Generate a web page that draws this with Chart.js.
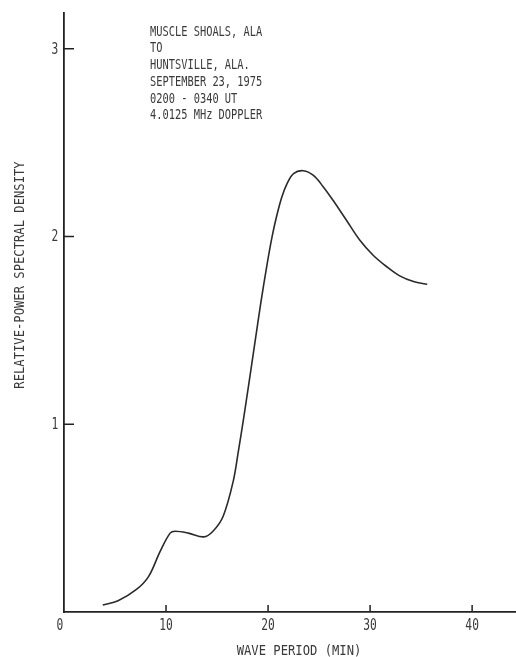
<!DOCTYPE html>
<html>
<head>
<meta charset="utf-8">
<script src="https://cdn.jsdelivr.net/npm/chart.js@4/dist/chart.umd.min.js"></script>
<style>
  html, body { margin: 0; padding: 0; background: #fff; }
  #wrap { width: 516px; height: 657px; position: relative; }
</style>
</head>
<body>
<div id="wrap"><canvas id="c" width="516" height="657"></canvas></div>
<script>
// Wave period (min) and relative power spectral density along the curve
const wavePeriod = [3.8, 5.3, 7.1, 8.3, 9.4, 10.4, 10.9, 12.2, 13.7, 14.6, 15.6, 16.6, 17.1, 17.6,
                    18.1, 18.7, 19.3, 19.9, 20.4, 20.85, 21.35, 21.85, 22.5, 23.45, 24.45, 25.4, 26.4,
                    27.7, 29.0, 30.3, 31.6, 32.9, 34.25, 35.6];
const spectralDensity = [0.037, 0.06, 0.12, 0.19, 0.32, 0.42, 0.43, 0.42, 0.40, 0.43, 0.51, 0.70, 0.86, 1.03,
                         1.21, 1.43, 1.65, 1.85, 2.0, 2.11, 2.21, 2.28, 2.335, 2.35, 2.325, 2.265, 2.19,
                         2.085, 1.98, 1.90, 1.84, 1.79, 1.76, 1.745];

const xTickValues = [0, 10, 20, 30, 40];
const yTickValues = [1, 2, 3];
const xTitle = 'WAVE PERIOD (MIN)';
const yTitle = 'RELATIVE-POWER SPECTRAL DENSITY';
const noteLines = ['MUSCLE SHOALS, ALA', 'TO', 'HUNTSVILLE, ALA.', 'SEPTEMBER 23, 1975', '0200 - 0340 UT', '4.0125 MHz DOPPLER'];

const INK = '#3a3a3a';
const FONT = '"DejaVu Sans Mono", "Liberation Mono", monospace';

// Draws condensed lettering (typewriter-like) on the canvas
function narrowText(ctx, str, x, y, size, sx, align, rot) {
  ctx.save();
  ctx.translate(x, y);
  if (rot) ctx.rotate(rot);
  ctx.scale(sx, 1);
  ctx.font = size + 'px ' + FONT;
  ctx.fillStyle = INK;
  ctx.textAlign = align;
  ctx.textBaseline = 'middle';
  ctx.fillText(str, 0, 0);
  ctx.restore();
}

const axisDecor = {
  id: 'axisDecor',
  afterDraw(chart) {
    const ctx = chart.ctx;
    const xs = chart.scales.x, ys = chart.scales.y;
    const left = chart.chartArea.left, bottom = chart.chartArea.bottom;

    // inward tick marks
    ctx.save();
    ctx.strokeStyle = '#222';
    ctx.lineWidth = 1.5;
    ctx.beginPath();
    xTickValues.filter(v => v > 0).forEach(v => {
      const px = xs.getPixelForValue(v);
      ctx.moveTo(px, bottom);
      ctx.lineTo(px, bottom - 7);
    });
    yTickValues.forEach(v => {
      const py = ys.getPixelForValue(v);
      ctx.moveTo(left, py);
      ctx.lineTo(left + 10, py);
    });
    ctx.stroke();
    ctx.restore();

    // tick labels
    xTickValues.forEach(v => {
      const px = xs.getPixelForValue(v) + (v === 0 ? -4 : 0);
      narrowText(ctx, String(v), px, bottom + 14, 15, 0.75, 'center');
    });
    yTickValues.forEach(v => {
      narrowText(ctx, String(v), left - 9, ys.getPixelForValue(v) + 1, 15, 0.75, 'center');
    });

    // axis titles
    narrowText(ctx, xTitle, 299, 651, 14, 0.87, 'center');
    narrowText(ctx, yTitle, 20, 275, 14, 0.87, 'center', -Math.PI / 2);

    // station / date note
    noteLines.forEach((s, i) => {
      narrowText(ctx, s, 150, 32 + i * 16.7, 14.4, 0.72, 'left');
    });
  }
};

new Chart(document.getElementById('c'), {
  type: 'line',
  data: {
    datasets: [{
      data: wavePeriod.map((x, i) => ({ x, y: spectralDensity[i] })),
      borderColor: '#2a2a2a',
      borderWidth: 1.6,
      pointRadius: 0,
      fill: false,
      tension: 0.35
    }]
  },
  options: {
    responsive: false,
    animation: false,
    devicePixelRatio: 1,
    layout: { padding: { left: 64, top: 13, right: 0, bottom: 45 } },
    plugins: { legend: { display: false }, tooltip: { enabled: false }, title: { display: false } },
    scales: {
      x: {
        type: 'linear', min: 0, max: 44.3,
        ticks: { display: false, stepSize: 10 },
        grid: { drawOnChartArea: false, drawTicks: false },
        border: { display: true, color: '#222', width: 1.8 },
        afterFit(s) { s.height = 0; }
      },
      y: {
        type: 'linear', min: 0, max: 3.19,
        ticks: { display: false, stepSize: 1 },
        grid: { drawOnChartArea: false, drawTicks: false },
        border: { display: true, color: '#222', width: 1.8 },
        afterFit(s) { s.width = 0; }
      }
    }
  },
  plugins: [axisDecor]
});
</script>
</body>
</html>
